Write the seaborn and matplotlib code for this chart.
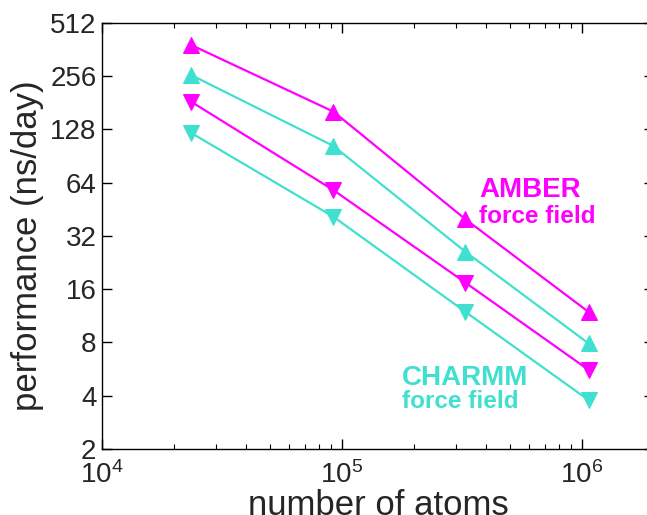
import numpy as np
import pandas as pd
import seaborn as sns
import matplotlib
matplotlib.use("Agg")
import matplotlib.pyplot as plt
from matplotlib.ticker import FixedLocator, FixedFormatter, LogLocator, NullLocator

# ---- data ----
atoms = [23558, 92224, 327506, 1066628]
amber_up = [383, 161, 39.7, 11.9]
charmm_up = [259, 103, 26.0, 7.9]
amber_down = [183, 58, 17.4, 5.6]
charmm_down = [122, 41, 11.9, 3.78]

y_ticks = [2, 4, 8, 16, 32, 64, 128, 256, 512]
x_ticks = [1e4, 1e5, 1e6]
x_ticklabels = [r"$10^4$", r"$10^5$", r"$10^6$"]

MAGENTA = "#FF00FF"
TURQ = "#40E0D0"

sns.set_style("ticks")
plt.rcParams["font.family"] = ["Liberation Sans", "DejaVu Sans"]
plt.rcParams["mathtext.fontset"] = "custom"
plt.rcParams["mathtext.rm"] = "Liberation Sans"
plt.rcParams["mathtext.it"] = "Liberation Sans"

fig = plt.figure(figsize=(6.47, 5.15), dpi=100)
ax = fig.add_axes([102 / 647, 66 / 515, 552 / 647, 426.3 / 515])

series = [
    (amber_up, MAGENTA, "^"),
    (charmm_up, TURQ, "^"),
    (amber_down, MAGENTA, "v"),
    (charmm_down, TURQ, "v"),
]
for vals, col, mk in series:
    df = pd.DataFrame({"atoms": atoms, "perf": vals})
    sns.lineplot(data=df, x="atoms", y="perf", ax=ax, color=col, marker=mk,
                 markersize=11, markeredgecolor=col, linewidth=1.6, legend=False)

ax.set_xscale("log")
ax.set_yscale("log", base=2)
ax.set_xlim(1e4, 2e6)
ax.set_ylim(2, 512)

ax.yaxis.set_major_locator(FixedLocator(y_ticks))
ax.yaxis.set_major_formatter(FixedFormatter([str(t) for t in y_ticks]))
ax.yaxis.set_minor_locator(NullLocator())
ax.xaxis.set_major_locator(FixedLocator(x_ticks))
ax.xaxis.set_major_formatter(FixedFormatter(x_ticklabels))
ax.xaxis.set_minor_locator(LogLocator(base=10, subs=np.arange(2, 10), numticks=20))

for s in ax.spines.values():
    s.set_visible(True)
    s.set_linewidth(1.0)
    s.set_color("black")

ax.tick_params(axis="both", which="major", direction="in", length=7.5, width=1.0,
               labelsize=20, top=True, right=True, color="black")
ax.tick_params(axis="both", which="minor", direction="in", length=3.8, width=0.8,
               top=True, right=True, color="black")
ax.tick_params(axis="y", which="major", pad=4)
ax.tick_params(axis="x", which="major", pad=9)

ax.set_xlabel("number of atoms", fontsize=25)
ax.set_ylabel("performance (ns/day)", fontsize=25)
ax.xaxis.set_label_coords(0.5, -0.093)
ax.yaxis.set_label_coords(-0.105, 0.476)

ax.text(479 / 647, 1 - 197 / 515, "AMBER", transform=fig.transFigure,
        color=MAGENTA, fontsize=20, fontweight="bold", ha="left", va="baseline")
ax.text(479 / 647, 1 - 223 / 515, "force field", transform=fig.transFigure,
        color=MAGENTA, fontsize=17.5, fontweight="bold", ha="left", va="baseline")
ax.text(402 / 647, 1 - 385 / 515, "CHARMM", transform=fig.transFigure,
        color=TURQ, fontsize=20, fontweight="bold", ha="left", va="baseline")
ax.text(402 / 647, 1 - 408 / 515, "force field", transform=fig.transFigure,
        color=TURQ, fontsize=17.5, fontweight="bold", ha="left", va="baseline")

fig.savefig("out.png", dpi=100)
